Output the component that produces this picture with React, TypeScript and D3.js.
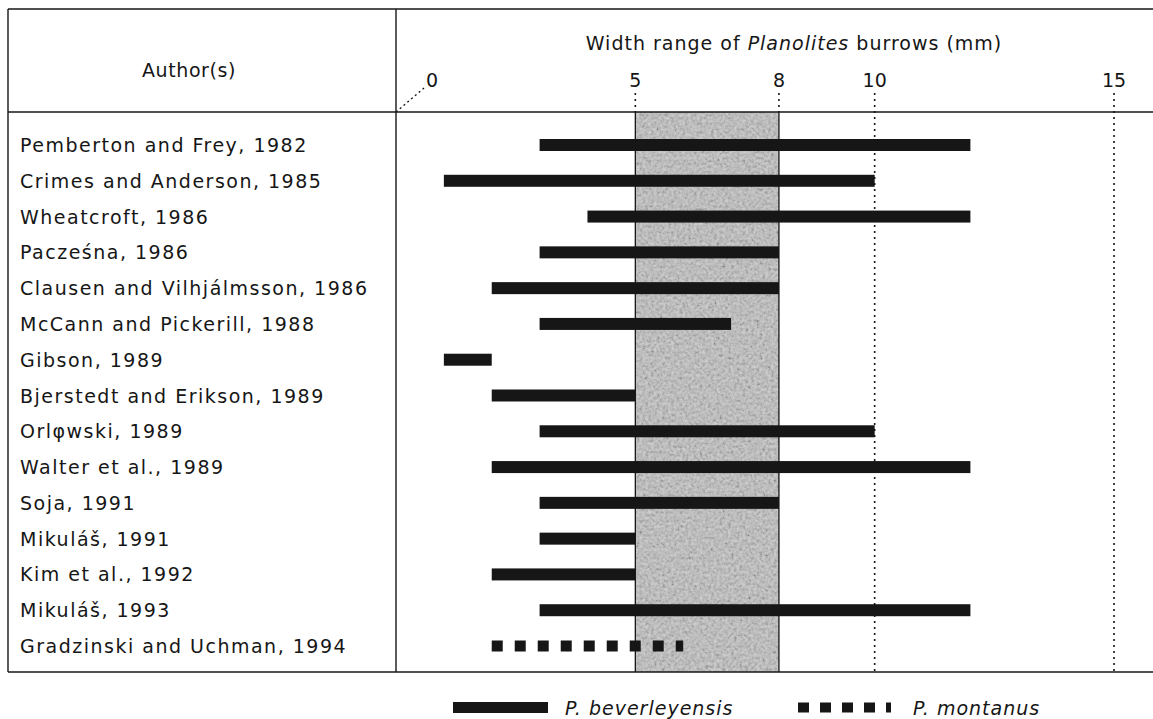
import * as d3 from "d3";

const authors = [
  "Pemberton and Frey, 1982",
  "Crimes and Anderson, 1985",
  "Wheatcroft, 1986",
  "Pacześna, 1986",
  "Clausen and Vilhjálmsson, 1986",
  "McCann and Pickerill, 1988",
  "Gibson, 1989",
  "Bjerstedt and Erikson, 1989",
  "Orlφwski, 1989",
  "Walter et al., 1989",
  "Soja, 1991",
  "Mikuláš, 1991",
  "Kim et al., 1992",
  "Mikuláš, 1993",
  "Gradzinski and Uchman, 1994",
];
const minWidth = [3, 1, 4, 3, 2, 3, 1, 2, 3, 2, 3, 3, 2, 3, 2];
const maxWidth = [12, 10, 12, 8, 8, 7, 2, 5, 10, 12, 8, 5, 5, 12, 6];
const species = [
  "beverleyensis", "beverleyensis", "beverleyensis", "beverleyensis", "beverleyensis",
  "beverleyensis", "beverleyensis", "beverleyensis", "beverleyensis", "beverleyensis",
  "beverleyensis", "beverleyensis", "beverleyensis", "beverleyensis", "montanus",
];
const tickValues = [0, 5, 8, 10, 15];
const shadedRange = [5, 8];

const W = 1153;
const H = 719;
const box = { left: 8, top: 9, headerBottom: 112, bottom: 672, divider: 396 };
const font = "'DejaVu Sans', sans-serif";
const ink = "#161616";
const dotted = "2,4";

export default function App() {
  const x = d3.scaleLinear().domain([0, 15]).range([box.divider, 1114]);
  const y = d3.scalePoint<string>()
    .domain(authors)
    .range([145, 646]);

  const rows = authors.map((a, i) => ({
    author: a,
    lo: minWidth[i],
    hi: maxWidth[i],
    kind: species[i],
  }));

  const bandX = x(shadedRange[0]);
  const bandW = x(shadedRange[1]) - x(shadedRange[0]);

  return (
    <div style={{ position: "fixed", left: 0, top: 0 }}>
      <svg width={W} height={H} style={{ display: "block", background: "#fff" }}>
        <defs>
          <filter id="grain" x="0" y="0" width="100%" height="100%">
            <feTurbulence type="fractalNoise" baseFrequency="0.35" numOctaves="3" seed="4" />
            <feColorMatrix type="saturate" values="0" />
            <feComponentTransfer>
              <feFuncR type="linear" slope="1.8" intercept="-0.4" />
              <feFuncG type="linear" slope="1.8" intercept="-0.4" />
              <feFuncB type="linear" slope="1.8" intercept="-0.4" />
              <feFuncA type="linear" slope="0" intercept="1" />
            </feComponentTransfer>
          </filter>
        </defs>

        {/* shaded 5-8 mm band */}
        <rect x={bandX} y={box.headerBottom} width={bandW}
          height={box.bottom - box.headerBottom} fill="#bdbdbd" />
        <rect x={bandX} y={box.headerBottom} width={bandW}
          height={box.bottom - box.headerBottom} filter="url(#grain)" opacity={0.3} />
        {shadedRange.map((v) => (
          <line key={"s" + v} x1={x(v)} x2={x(v)} y1={box.headerBottom} y2={box.bottom}
            stroke={ink} strokeWidth={1.3} />
        ))}

        {/* dotted tick lines */}
        {tickValues.filter((v) => v > 0).map((v) => (
          <line
            key={"t" + v}
            x1={x(v)} x2={x(v)}
            y1={93}
            y2={v === 5 || v === 8 ? box.headerBottom : box.bottom}
            stroke={ink}
            strokeWidth={1.6}
            strokeDasharray={dotted}
          />
        ))}
        <line x1={box.divider} y1={box.headerBottom} x2={x(0) + 28} y2={88}
          stroke={ink} strokeWidth={1.4} strokeDasharray="2,3" />

        {/* table frame */}
        <g stroke={ink} strokeWidth={1.4} fill="none">
          <line x1={box.left} x2={W} y1={box.top} y2={box.top} />
          <line x1={box.left} x2={W} y1={box.headerBottom} y2={box.headerBottom} />
          <line x1={box.left} x2={W} y1={box.bottom} y2={box.bottom} />
          <line x1={box.left} x2={box.left} y1={box.top} y2={box.bottom} />
          <line x1={box.divider} x2={box.divider} y1={box.top} y2={box.bottom} />
        </g>

        {/* header text */}
        <text x={189} y={77} textAnchor="middle" fontFamily={font} fontSize={19}
          letterSpacing={0.6} fill={ink}>
          Author(s)
        </text>
        <text x={794} y={50} textAnchor="middle" fontFamily={font} fontSize={19}
          letterSpacing={1} fill={ink}>
          Width range of <tspan fontStyle="italic">Planolites</tspan> burrows (mm)
        </text>
        {tickValues.map((v) => (
          <text key={"l" + v} x={v === 0 ? x(v) + 36 : x(v)} y={87} textAnchor="middle"
            fontFamily={font} fontSize={19} fill={ink}>
            {v}
          </text>
        ))}

        {/* rows */}
        {rows.map((r) => (
          <g key={r.author}>
            <text x={20} y={(y(r.author) ?? 0) + 7} fontFamily={font} fontSize={19}
              letterSpacing={1.5} fill={ink}>
              {r.author}
            </text>
            {r.kind === "montanus" ? (
              <line
                x1={x(r.lo)} x2={x(r.hi)}
                y1={y(r.author)} y2={y(r.author)}
                stroke={ink} strokeWidth={11} strokeDasharray="11,12"
              />
            ) : (
              <rect
                x={x(r.lo)} y={(y(r.author) ?? 0) - 6}
                width={x(r.hi) - x(r.lo)} height={12}
                fill={ink}
              />
            )}
          </g>
        ))}

        {/* legend */}
        <rect x={453} y={702} width={95} height={11} fill={ink} />
        <text x={565} y={715} fontFamily={font} fontSize={19} fontStyle="italic"
          letterSpacing={1} fill={ink}>
          P. beverleyensis
        </text>
        <line x1={798} x2={891} y1={707.5} y2={707.5} stroke={ink} strokeWidth={10}
          strokeDasharray="11,11" />
        <text x={913} y={715} fontFamily={font} fontSize={19} fontStyle="italic"
          letterSpacing={1} fill={ink}>
          P. montanus
        </text>
      </svg>
    </div>
  );
}
